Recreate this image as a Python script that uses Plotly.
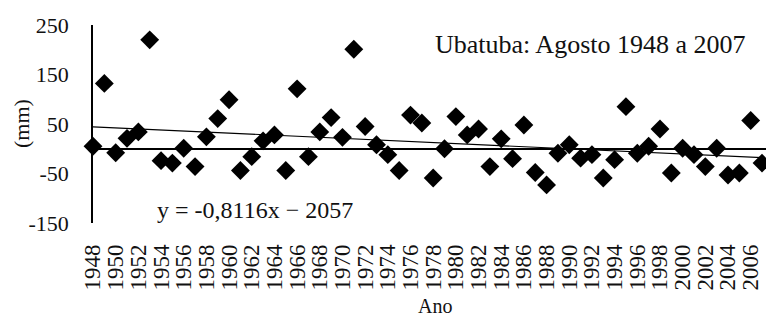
import numpy as np
import plotly.graph_objects as go

years = list(range(1948, 2008))
anomaly_mm = [5, 132, -8, 21, 34, 220, -24, -29, 1, -36,
              24, 61, 99, -44, -16, 16, 28, -44, 121, -16,
              34, 63, 23, 201, 45, 8, -12, -44, 68, 52,
              -59, 0, 65, 28, 40, -36, 20, -20, 48, -48,
              -73, -9, 8, -19, -12, -59, -22, 85, -9, 5,
              40, -49, 1, -12, -36, 1, -53, -49, 57, -29]
x_tick_labels = [str(y) for y in range(1948, 2007, 2)]
y_tick_values = [-150, -50, 50, 150, 250]
y_tick_labels = ["-150", "-50", "50", "150", "250"]
title_text = "Ubatuba: Agosto 1948 a 2007"
equation_text = "y = -0,8116x \u2212 2057"

FONT = "Liberation Serif, Times New Roman, serif"

slope, intercept = np.polyfit(years, anomaly_mm, 1)
trend_x = [years[0], years[-1]]
trend_y = [slope * x + intercept for x in trend_x]

fig = go.Figure()
fig.add_trace(go.Scatter(x=trend_x, y=trend_y, mode="lines",
                         line=dict(color="black", width=1.2),
                         hoverinfo="skip", showlegend=False))
fig.add_trace(go.Scatter(x=years, y=anomaly_mm, mode="markers",
                         marker=dict(symbol="diamond", size=14.5, color="black",
                                     line=dict(width=0)),
                         cliponaxis=False, showlegend=False))

fig.update_layout(
    width=766, height=321,
    margin=dict(l=93, r=0, t=25, b=98, autoexpand=False),
    paper_bgcolor="white", plot_bgcolor="white",
    font=dict(family=FONT, color="#111", size=22),
    showlegend=False,
)
fig.update_xaxes(
    range=[1948, 2007.35], showgrid=False, zeroline=False, showline=False,
    automargin=False,
    tickmode="array", tickvals=[int(t) for t in x_tick_labels], ticktext=x_tick_labels,
    tickangle=-90, ticks="", tickfont=dict(size=23, family=FONT, color="#111"),
    ticklabelstandoff=16,
)
fig.update_yaxes(
    range=[-150, 250], showgrid=False, zeroline=True, zerolinecolor="black",
    zerolinewidth=1.5, showline=True, linecolor="black", linewidth=1.5,
    automargin=False,
    tickmode="array", tickvals=y_tick_values, ticktext=y_tick_labels, ticks="",
    tickfont=dict(size=22, family=FONT, color="#111"), ticklabelstandoff=18,
)
fig.add_annotation(text=title_text, xref="paper", yref="paper",
                   x=0.973, y=0.899, xanchor="right", yanchor="middle",
                   showarrow=False, font=dict(size=26, family=FONT, color="#111"))
fig.add_annotation(text=equation_text, xref="paper", yref="paper",
                   x=0.092, y=0.066, xanchor="left", yanchor="middle",
                   showarrow=False, font=dict(size=24, family=FONT, color="#111"))
fig.add_annotation(text="(mm)", xref="paper", yref="paper",
                   x=-0.107, y=0.505, xanchor="center", yanchor="middle",
                   textangle=-90, showarrow=False,
                   font=dict(size=22, family=FONT, color="#111"))
fig.add_annotation(text="Ano", xref="paper", yref="paper",
                   x=0.508, y=-0.42, xanchor="center", yanchor="middle",
                   showarrow=False, font=dict(size=20, family=FONT, color="#111"))

fig.write_html("out.html", config={"displayModeBar": False},
               post_script="document.body.style.margin='0';document.body.style.overflow='hidden';")
